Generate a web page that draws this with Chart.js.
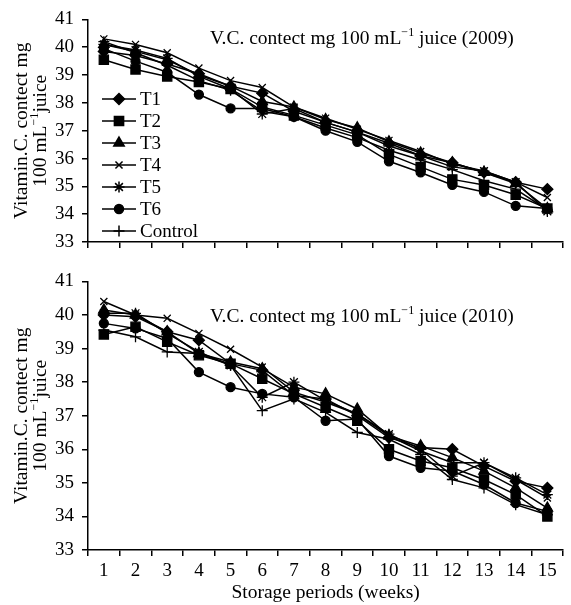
<!DOCTYPE html>
<html>
<head>
<meta charset="utf-8">
<script src="https://cdn.jsdelivr.net/npm/chart.js@4.4.1/dist/chart.umd.min.js"></script>
<style>
  html, body { margin: 0; padding: 0; background: #fff; }
  #wrap { position: relative; width: 571px; height: 605px; }
  #c2009 { position: absolute; left: 0; top: 0; }
  #c2010 { position: absolute; left: 0; top: 262px; }
</style>
</head>
<body>
<div id="wrap">
  <canvas id="c2009" width="571" height="262"></canvas>
  <canvas id="c2010" width="571" height="343"></canvas>
</div>
<script>
// weeks of storage and y tick values
const weeks = ['1', '2', '3', '4', '5', '6', '7', '8', '9', '10', '11', '12', '13', '14', '15'];
const yTicks = [33, 34, 35, 36, 37, 38, 39, 40, 41];
const seriesNames = ['T1', 'T2', 'T3', 'T4', 'T5', 'T6', 'Control'];

// 2009 values
const t1_2009 = [39.85, 39.7, 39.4, 39.05, 38.6, 38.35, 37.7, 37.3, 36.95, 36.55, 36.1, 35.85, 35.5, 35.15, 34.9];
const t2_2009 = [39.55, 39.2, 38.95, 38.75, 38.5, 37.85, 37.55, 37.2, 36.85, 36.15, 35.7, 35.25, 35.05, 34.7, 34.2];
const t3_2009 = [40.1, 39.85, 39.55, 39.0, 38.6, 38.05, 37.85, 37.4, 37.1, 36.6, 36.2, 35.85, 35.5, 35.1, 34.2];
const t4_2009 = [40.3, 40.1, 39.8, 39.25, 38.8, 38.55, 37.85, 37.45, 37.05, 36.65, 36.25, 35.8, 35.55, 35.15, 34.6];
const t5_2009 = [40.1, 39.9, 39.6, 38.95, 38.5, 37.6, 37.8, 37.3, 36.95, 36.45, 36.1, 35.7, 35.55, 35.15, 34.1];
const t6_2009 = [39.95, 39.5, 39.1, 38.3, 37.8, 37.8, 37.5, 37.0, 36.6, 35.9, 35.5, 35.05, 34.8, 34.3, 34.2];
const ctrl_2009 = [40.2, 39.8, 39.35, 38.8, 38.45, 37.7, 37.5, 37.1, 36.75, 36.3, 35.95, 35.6, 35.2, 34.9, 34.15];

// 2010 values
const t1_2010 = [40.0, 39.95, 39.5, 39.25, 38.55, 38.35, 37.6, 37.5, 37.0, 36.35, 36.05, 36.0, 35.5, 35.05, 34.85];
const t2_2010 = [39.42, 39.65, 39.2, 38.8, 38.55, 38.1, 37.65, 37.25, 36.85, 36.0, 35.65, 35.45, 35.1, 34.65, 34.0];
const t3_2010 = [40.15, 40.0, 39.5, 38.85, 38.6, 38.4, 37.85, 37.65, 37.2, 36.4, 36.1, 35.75, 35.35, 34.85, 34.25];
const t4_2010 = [40.4, 40.0, 39.9, 39.45, 38.98, 38.45, 37.7, 37.4, 37.05, 36.4, 35.95, 35.6, 35.6, 35.1, 34.55];
const t5_2010 = [40.05, 40.05, 39.45, 38.9, 38.5, 37.55, 38.0, 37.45, 37.05, 36.45, 36.0, 35.2, 35.6, 35.15, 34.65];
const t6_2010 = [39.75, 39.6, 39.3, 38.3, 37.85, 37.65, 37.55, 36.85, 36.9, 35.8, 35.45, 35.35, 34.95, 34.4, 34.15];
const ctrl_2010 = [39.55, 39.35, 38.9, 38.85, 38.5, 37.15, 37.5, 37.1, 36.5, 36.3, 35.85, 35.1, 34.85, 34.35, 34.05];

// marker style per series
const markerStyles = ['rectRot', 'rect', 'triangle', 'crossRot', 'star', 'circle', 'cross'];
const markerSizes = [5.5, 6.5, 6, 5, 5.5, 4.5, 5.5];

const SERIF = "'Liberation Serif', 'Times New Roman', serif";
const TXT = 19.5;

// draw text runs with superscript parts, left aligned on a baseline
function runsWidth(ctx, runs, size) {
  let w = 0;
  runs.forEach(([txt, sup]) => {
    ctx.font = (sup ? size * 0.62 : size) + 'px ' + SERIF;
    w += ctx.measureText(txt).width;
  });
  return w;
}
function drawRuns(ctx, runs, x, y, size) {
  runs.forEach(([txt, sup]) => {
    ctx.font = (sup ? size * 0.62 : size) + 'px ' + SERIF;
    ctx.fillText(txt, x, sup ? y - size * 0.42 : y);
    x += ctx.measureText(txt).width;
  });
}

const decor = {
  id: 'decor',
  afterDraw(chart, args, opts) {
    const ctx = chart.ctx;
    const area = chart.chartArea;
    ctx.save();
    ctx.fillStyle = '#000';
    ctx.textAlign = 'left';
    ctx.textBaseline = 'alphabetic';

    // note inside the plot
    drawRuns(ctx, [['V.C. contect mg 100 mL', false], ['\u22121', true], [' juice (' + opts.year + ')', false]],
      opts.noteX, opts.noteY, TXT);

    // rotated two-line y title
    const cy = (area.top + area.bottom) / 2;
    const line1 = [['Vitamin.C. contect mg', false]];
    const line2 = [['100 mL', false], ['\u22121', true], ['juice', false]];
    [[line1, 27], [line2, 46]].forEach(([runs, x]) => {
      ctx.save();
      ctx.translate(x, cy);
      ctx.rotate(-Math.PI / 2);
      const w = runsWidth(ctx, runs, TXT);
      drawRuns(ctx, runs, -w / 2, 0, TXT);
      ctx.restore();
    });

    // legend in the upper panel
    if (opts.legend) {
      chart.data.datasets.forEach((ds, i) => {
        const y = 99 + 22 * i;
        ctx.strokeStyle = '#000';
        ctx.lineWidth = 1.5;
        ctx.beginPath();
        ctx.moveTo(102, y);
        ctx.lineTo(136, y);
        ctx.stroke();
        ctx.fillStyle = '#000';
        if (Chart.helpers && Chart.helpers.drawPoint) {
          Chart.helpers.drawPoint(ctx, {
            pointStyle: ds.pointStyle, radius: ds.pointRadius, rotation: 0, borderWidth: 1.3
          }, 119, y);
        }
        ctx.font = '19px ' + SERIF;
        ctx.textBaseline = 'middle';
        ctx.fillText(ds.label, 140, y + 1);
        ctx.textBaseline = 'alphabetic';
      });
    }
    ctx.restore();
  }
};

function makeDatasets(series) {
  return series.map((vals, i) => ({
    label: seriesNames[i],
    data: vals,
    borderColor: '#000',
    backgroundColor: '#000',
    borderWidth: 1.5,
    pointStyle: markerStyles[i],
    pointRadius: markerSizes[i],
    pointBorderWidth: 1.3,
    pointBackgroundColor: '#000',
    pointBorderColor: '#000',
    tension: 0
  }));
}

function makeOptions(showLabels, axisHeight, padTop, year, noteY, legend) {
  return {
    responsive: false,
    animation: false,
    layout: { padding: { top: padTop, right: 0, left: 0, bottom: 0 } },
    plugins: {
      legend: { display: false },
      tooltip: { enabled: false },
      decor: { year: year, noteX: 210, noteY: noteY, legend: legend }
    },
    scales: {
      x: {
        type: 'category',
        offset: true,
        afterFit(scale) { scale.height = axisHeight; },
        border: { display: true, color: '#000', width: 1.5 },
        grid: { offset: true, drawOnChartArea: false, drawTicks: true, tickLength: 6, color: '#000', lineWidth: 1.5 },
        ticks: { display: showLabels, color: '#000', padding: 4, maxRotation: 0, autoSkip: false, font: { family: SERIF, size: 19 } },
        title: {
          display: showLabels,
          text: 'Storage periods (weeks)',
          color: '#000',
          font: { family: SERIF, size: TXT },
          padding: { top: 0, bottom: 0 }
        }
      },
      y: {
        min: 33,
        max: 41,
        afterBuildTicks(scale) { scale.ticks = yTicks.map(v => ({ value: v })); },
        afterFit(scale) { scale.width = 88; },
        border: { display: true, color: '#000', width: 1.5 },
        grid: { drawOnChartArea: false, drawTicks: true, tickLength: 6, color: '#000', lineWidth: 1.5 },
        ticks: { color: '#000', padding: 8, font: { family: SERIF, size: 19 } }
      }
    }
  };
}

new Chart(document.getElementById('c2009'), {
  type: 'line',
  data: {
    labels: weeks,
    datasets: makeDatasets([t1_2009, t2_2009, t3_2009, t4_2009, t5_2009, t6_2009, ctrl_2009])
  },
  options: makeOptions(false, 20, 15, '2009', 44, true),
  plugins: [decor]
});

new Chart(document.getElementById('c2010'), {
  type: 'line',
  data: {
    labels: weeks,
    datasets: makeDatasets([t1_2010, t2_2010, t3_2010, t4_2010, t5_2010, t6_2010, ctrl_2010])
  },
  options: makeOptions(true, 55, 18, '2010', 60, false),
  plugins: [decor]
});
</script>
</body>
</html>
